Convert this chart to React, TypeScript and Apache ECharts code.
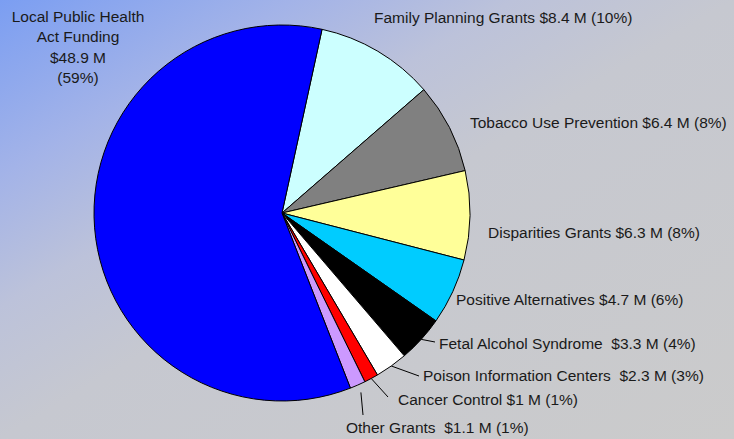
import React, { useEffect, useRef } from "react";
import * as echarts from "echarts";

const categories = [
  "Family Planning Grants",
  "Tobacco Use Prevention",
  "Disparities Grants",
  "Positive Alternatives",
  "Fetal Alcohol Syndrome",
  "Poison Information Centers",
  "Cancer Control",
  "Other Grants",
  "Local Public Health\nAct Funding",
];
const values = [8.4, 6.4, 6.3, 4.7, 3.3, 2.3, 1, 1.1, 48.9];
const colors = [
  "#ccffff",
  "#808080",
  "#ffff99",
  "#00ccff",
  "#000000",
  "#ffffff",
  "#ff0000",
  "#cc99ff",
  "#0000ff",
];
const separators = [" ", " ", " ", " ", "  ", "  ", " ", "  ", "\n"];
const hasLeader = [false, false, false, false, true, true, true, true, false];
const labelAnchors = [
  [374, 17, "left"],
  [470, 122, "left"],
  [488, 232, "left"],
  [456, 299, "left"],
  [439, 343, "left"],
  [423, 375, "left"],
  [398, 399, "left"],
  [346, 427, "left"],
  [78, 47, "center"],
];
// leader-line end offsets relative to the label anchor
const leaderEndOffsets = [
  null,
  null,
  null,
  null,
  [-4, -1],
  [-4, 1],
  [-10, -2],
  [17, -12],
  null,
];
// gap between the pie edge and the start of the leader line
const leaderStartGap = [0, 0, 0, 0, 0, 0, 0, 8, 0];
const CENTER = [282, 213];

export default function App() {
  const ref = useRef<HTMLDivElement>(null);
  useEffect(() => {
    if (!ref.current) return;
    const chart = echarts.init(ref.current, null, { renderer: "svg" });
    const data = categories.map((name, i) => ({
      name,
      value: values[i],
      itemStyle: { color: colors[i] },
      labelLine: { show: hasLeader[i] },
    }));
    chart.setOption({
      animation: false,
      backgroundColor: "transparent",
      series: [
        {
          type: "pie",
          center: CENTER,
          radius: [0, 188],
          startAngle: 77.7,
          clockwise: true,
          percentPrecision: 0,
          data,
          itemStyle: { borderColor: "#000", borderWidth: 1 },
          emphasis: { disabled: true },
          label: {
            show: true,
            position: "outside",
            color: "#1a1a1a",
            fontFamily: "Liberation Sans, Arial, sans-serif",
            fontSize: 15.5,
            lineHeight: 20.3,
            overflow: "none",
            edgeDistance: 0,
            formatter: (p: any) =>
              `${p.name}${separators[p.dataIndex]}$${p.value} M${
                p.dataIndex === 8 ? "\n" : " "
              }(${p.percent}%)`,
          },
          labelLine: {
            length: 8,
            length2: 6,
            smooth: false,
            lineStyle: { color: "#000", width: 1 },
          },
          labelLayout: (p: any) => {
            const i = p.dataIndex;
            const a = labelAnchors[i];
            const out: any = {
              x: a[0],
              y: a[1],
              align: a[2],
              verticalAlign: "middle",
              width: 300,
            };
            const off = leaderEndOffsets[i];
            if (off && p.labelLinePoints && p.labelLinePoints.length) {
              const s = p.labelLinePoints[0];
              const dx = s[0] - CENTER[0];
              const dy = s[1] - CENTER[1];
              const len = Math.sqrt(dx * dx + dy * dy) || 1;
              const g = leaderStartGap[i];
              out.labelLinePoints = [
                [s[0] + (dx / len) * g, s[1] + (dy / len) * g],
                [(a[0] as number) + off[0], (a[1] as number) + off[1]],
              ];
            }
            return out;
          },
        },
      ],
    });
    return () => chart.dispose();
  }, []);
  return (
    <div
      ref={ref}
      style={{
        position: "fixed",
        left: 0,
        top: 0,
        width: 734,
        height: 439,
        background:
          "linear-gradient(to bottom right, #7b9ef2 0%, #a3b3e8 20%, #bcc2da 35%, #c6c8d0 50%, #cbcbcb 100%)",
      }}
    />
  );
}
